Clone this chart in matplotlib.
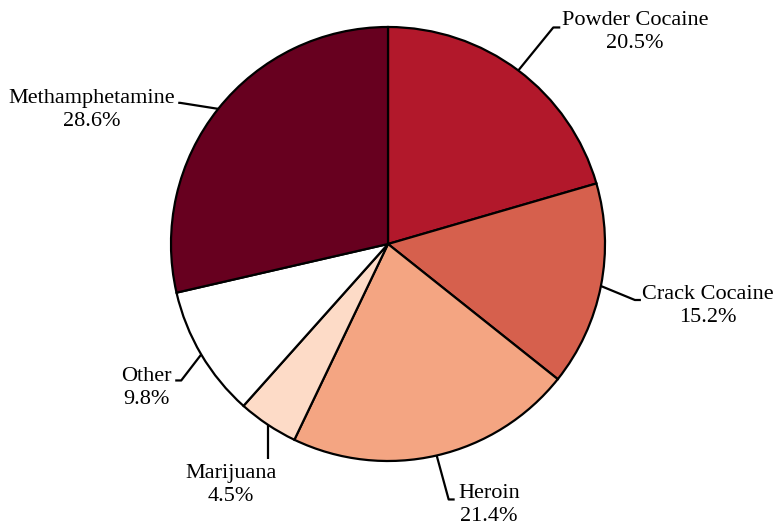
import numpy as np
import matplotlib
matplotlib.use("Agg")
import matplotlib.pyplot as plt

plt.rcParams["font.family"] = ["Liberation Serif", "DejaVu Serif"]

labels = ["Powder Cocaine", "Crack Cocaine", "Heroin", "Marijuana", "Other", "Methamphetamine"]
values = [20.5, 15.2, 21.4, 4.5, 9.8, 28.6]
colors = ["#B2182B", "#D6604D", "#F4A582", "#FDDBC7", "#FFFFFF", "#67001F"]

W, H = 778, 530
fig = plt.figure(figsize=(W / 100, H / 100), dpi=100)
ax = fig.add_axes([0, 0, 1, 1])

cx, cy, R = 388, H - 244, 217
ax.pie(values, colors=colors, startangle=90, counterclock=False, center=(cx, cy),
       radius=R, wedgeprops=dict(edgecolor="black", linewidth=1.6), frame=True)
ax.set_xlim(0, W)
ax.set_ylim(0, H)
ax.set_aspect("equal")
ax.axis("off")

# layout: elbow offset (dx, dy in px from edge point), horizontal tail length, text center
elbows = [(35, 43), (34, -14), (12, -44), (0, -34), (-20, -26), (-38, 6)]
tails = [7, 6, 6, 0, -6, -2]
text_pos = [(635, 32), (708, 306), (489, 505), (231, 485), (146, 388), (92, 110)]

total = sum(values)
cum = 0
for lab, v, (ex, ey), tl, (tx, ty) in zip(labels, values, elbows, tails, text_pos):
    mid = 90 - (cum + v / 2) / total * 360
    cum += v
    px = cx + R * np.cos(np.radians(mid))
    py = cy + R * np.sin(np.radians(mid))
    x1, y1 = px + ex, py + ey
    ax.plot([px, x1, x1 + tl], [py, y1, y1], color="black", lw=1.6, solid_capstyle="butt")
    ax.text(tx, H - ty, f"{lab}\n{v:.1f}%", ha="center", va="center", fontsize=16,
            linespacing=1.3)

fig.savefig("out.png", dpi=100)
